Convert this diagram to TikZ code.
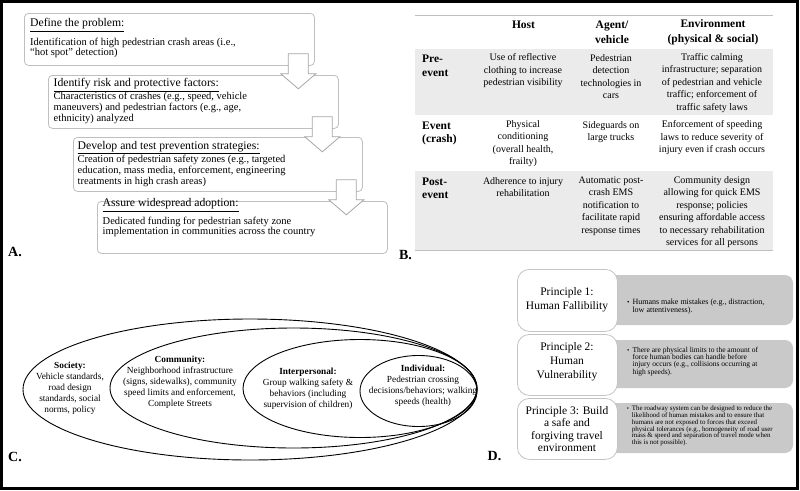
\documentclass[tikz,border=0pt]{standalone}
\usepackage{fontspec}
\setmainfont{Liberation Serif}
\usetikzlibrary{calc}
\definecolor{boxgray}{HTML}{BFBFBF}
\definecolor{arrowgray}{HTML}{A6A6A6}
\definecolor{rowgray}{HTML}{EBEBEB}
\definecolor{pgray}{HTML}{C4C4C4}
\definecolor{dgray}{HTML}{C9C9C9}
\tikzset{
 abox/.style={draw=boxgray, fill=white, rounded corners=4pt, line width=0.8pt, inner sep=0, anchor=north west},
 atitle/.style={anchor=west, inner sep=0, font=\fontsize{11.7}{13}\selectfont},
 abody/.style={anchor=west, inner sep=0, align=left, font=\fontsize{10.5}{10.7}\selectfont},
 barrow/.style={draw=arrowgray, fill=white, line width=0.8pt, line join=miter},
 thead/.style={inner sep=0, align=center, font=\bfseries\fontsize{11.5}{14.3}\selectfont},
 rlabel/.style={anchor=west, inner sep=0, align=left, font=\bfseries\fontsize{11.5}{13.5}\selectfont},
 cell/.style={inner sep=0, align=center, font=\fontsize{10}{12.5}\selectfont},
 ctext/.style={inner sep=0, align=center, font=\fontsize{9.3}{11}\selectfont},
 ell/.style={draw=black, line width=0.9pt},
 pbox/.style={draw=pgray, fill=white, rounded corners=12pt, line width=0.8pt, inner sep=0, anchor=north west, minimum width=100pt},
 gbox/.style={fill=dgray, rounded corners=8pt},
 ptext/.style={inner sep=0, align=center, font=\fontsize{11.5}{14}\selectfont},
 btext/.style={anchor=west, inner sep=0, align=left},
 plabel/.style={inner sep=0, font=\bfseries\fontsize{14}{14}\selectfont},
}
\begin{document}
\begin{tikzpicture}[x=1pt,y=-1pt]
\useasboundingbox (0,0) rectangle (800,490);
\fill[white] (0,0) rectangle (800,490);

% ---------------- Panel A ----------------
\node[abox, minimum width=290pt, minimum height=52pt] (b1) at (24,13) {};
\node[abox, minimum width=290pt, minimum height=53pt] (b2) at (48,75) {};
\node[abox, minimum width=289pt, minimum height=54pt] (b3) at (73,137) {};
\node[abox, minimum width=290pt, minimum height=52pt] (b4) at (97,201) {};

\foreach \b in {b1,b2,b3}{
 \draw[barrow] ($(\b.south east)+(-26.5,-12)$) -- ++(20,0) -- ++(0,20) -- ++(7.5,0)
   -- ++(-17.5,15) -- ++(-17.5,-15) -- ++(7.5,0) -- cycle;
}

\node[atitle] (t1) at (30,25) {\underline{Define the problem:}};
\node[abody] (x1) at (30,48) {Identification of high pedestrian crash areas (i.e.,\\``hot spot'' detection)};
\node[atitle] (t2) at (53.5,85) {\underline{Identify risk and protective factors:}};
\node[abody] (x2) at (53.5,108) {Characteristics of crashes (e.g., speed, vehicle\\maneuvers) and pedestrian factors (e.g., age,\\ethnicity) analyzed};
\node[atitle] (t3) at (77.5,147.3) {\underline{Develop and test prevention strategies:}};
\node[abody, font=\fontsize{10.5}{11}\selectfont] (x3) at (77.5,171) {Creation of pedestrian safety zones (e.g., targeted\\education, mass media, enforcement, engineering\\treatments in high crash areas)};
\node[atitle] (t4) at (102.5,205) {\underline{Assure widespread adoption:}};
\node[abody] (x4) at (102.5,227) {Dedicated funding for pedestrian safety zone\\implementation in communities across the country};

\node[plabel] (la) at (15,251.7) {A.};

% ---------------- Panel B ----------------
\fill[rowgray] (415,49) rectangle (773,115);
\fill[rowgray] (415,171) rectangle (773,250);
\draw[boxgray, line width=0.8pt] (415,15) -- (773,15);
\draw[boxgray, line width=0.8pt] (415,250) -- (773,250);

\node[thead] (hh) at (523.5,25) {Host};
\node[thead] (ha) at (612,32.2) {Agent/\\vehicle};
\node[thead] (he) at (713,32.2) {Environment\\(physical \& social)};

\node[rlabel] (r1) at (422,66) {Pre-\\event};
\node[rlabel] (r2) at (422,133.3) {Event\\(crash)};
\node[rlabel] (r3) at (422,188.3) {Post-\\event};

\node[cell] (c11) at (523,70.7) {Use of reflective\\clothing to increase\\pedestrian visibility};
\node[cell] (c12) at (611,76.7) {Pedestrian\\detection\\technologies in\\cars};
\node[cell] (c13) at (712,82.7) {Traffic calming\\infrastructure; separation\\of pedestrian and vehicle\\traffic; enforcement of\\traffic safety laws};

\node[cell] (c21) at (523,143.8) {Physical\\conditioning\\(overall health,\\frailty)};
\node[cell] (c22) at (611,132) {Sideguards on\\large trucks};
\node[cell] (c23) at (712,138) {Enforcement of speeding\\laws to reduce severity of\\injury even if crash occurs};

\node[cell] (c31) at (523,187.3) {Adherence to injury\\rehabilitation};
\node[cell] (c32) at (611,206) {Automatic post-\\crash EMS\\notification to\\facilitate rapid\\response times};
\node[cell] (c33) at (712,212.3) {Community design\\allowing for quick EMS\\response; policies\\ensuring affordable access\\to necessary rehabilitation\\services for all persons};

\node[plabel] (lb) at (405.5,255) {B.};

% ---------------- Panel C ----------------
\draw[ell] (250,389.5) ellipse [x radius=227, y radius=70.5];
\draw[ell] (293.5,388) ellipse [x radius=183.5, y radius=60];
\draw[ell] (360,388.5) ellipse [x radius=117, y radius=49];
\draw[ell] (418.5,391) ellipse [x radius=58.5, y radius=35.5];

\node[ctext] (s1) at (70,388.5) {\textbf{Society:}\\Vehicle standards,\\road design\\standards, social\\norms, policy};
\node[ctext] (s2) at (180,382.5) {\textbf{Community:}\\Neighborhood infrastructure\\(signs, sidewalks), community\\speed limits and enforcement,\\Complete Streets};
\node[ctext] (s3) at (308,388.5) {\textbf{Interpersonal:}\\Group walking safety \&\\behaviors (including\\supervision of children)};
\node[ctext] (s4) at (423,386) {\textbf{Individual:}\\Pedestrian crossing\\decisions/behaviors; walking\\speeds (health)};

\node[plabel] (lc) at (15,456.7) {C.};

% ---------------- Panel D ----------------
\fill[gbox] (605,275) rectangle (793,325);
\fill[gbox] (605,340) rectangle (793,388);
\fill[gbox] (605,403) rectangle (793,453);

\node[pbox, minimum height=62pt] (p1) at (517,269) {};
\node[pbox, minimum height=61pt] (p2) at (517,334) {};
\node[pbox, minimum height=61pt] (p3) at (517,398) {};

\node[ptext] (q1) at (567,300) {Principle 1:\\Human Fallibility};
\node[ptext] (q2) at (567,362) {Principle 2:\\Human\\Vulnerability};
\node[ptext, font=\fontsize{11.5}{12.6}\selectfont] (q3) at (567,429) {Principle 3: Build\\a safe and\\forgiving travel\\environment};

\node[btext, font=\fontsize{7}{8}\selectfont] (u1) at (627,302.7) {\textbullet};
\node[btext, font=\fontsize{8}{8}\selectfont] (v1) at (632.3,306.7) {Humans make mistakes (e.g., distraction,\\low attentiveness).};
\node[btext, font=\fontsize{6.5}{7}\selectfont] (u2) at (627,350.7) {\textbullet};
\node[btext, font=\fontsize{7.5}{7.2}\selectfont] (v2) at (632.3,361.5) {There are physical limits to the amount of\\force human bodies can handle before\\injury occurs (e.g., collisions occurring at\\high speeds).};
\node[btext, font=\fontsize{6}{6}\selectfont] (u3) at (626.7,409) {\textbullet};
\node[btext, font=\fontsize{6.9}{6.8}\selectfont] (v3) at (631.7,426) {The roadway system can be designed to reduce the\\likelihood of human mistakes and to ensure that\\humans are not exposed to forces that exceed\\physical tolerances (e.g., homogeneity of road user\\mass \& speed and separation of travel mode when\\this is not possible).};

\node[plabel] (ld) at (494.5,456) {D.};

% ---------------- Frame ----------------
\draw[black, line width=2.6pt] (1.3,1.2) rectangle (797.5,488.3);
\end{tikzpicture}
\end{document}
